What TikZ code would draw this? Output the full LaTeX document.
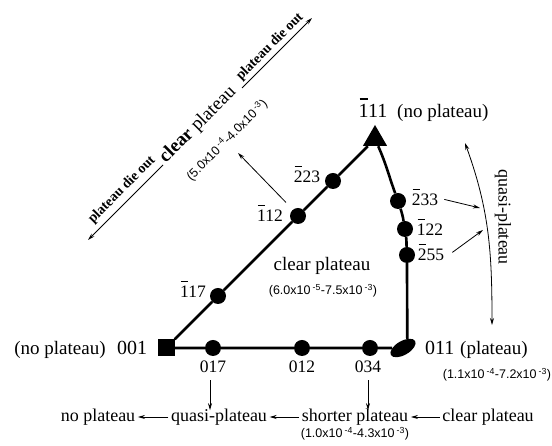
\documentclass[tikz,border=0pt]{standalone}
\usepackage{fontspec}
\setmainfont{Liberation Serif}
\setsansfont{Liberation Sans}
\usetikzlibrary{positioning,shapes.geometric,arrows.meta}

% index with a bar over its first digit
\newcommand{\ob}[1]{\makebox[0pt][l]{\hspace{0.04em}\rule[0.9em]{0.42em}{0.09em}}#1}

\begin{document}
\begin{tikzpicture}[x=1pt,y=1pt,
      every node/.style={inner sep=0pt},
      edge/.style={line width=2.6pt},
      dot/.style={circle, fill, minimum size=16pt},
      arr/.style={-{Stealth[length=7pt,width=4pt]}, line width=0.8pt},
      idx/.style={font=\fontsize{17.5}{18}\selectfont, anchor=base},
      pole/.style={font=\fontsize{20}{20}\selectfont, anchor=base},
      note/.style={font=\fontsize{19}{19}\selectfont},
      row/.style={font=\fontsize{18}{18}\selectfont, inner sep=2.5pt},
      rng/.style={font=\sffamily\fontsize{12.5}{12.5}\selectfont},
      die/.style={font=\bfseries\fontsize{14}{14}\selectfont, rotate=45}]
    \useasboundingbox (0,0) rectangle (552,446);

    % corners of the triangle
    \node[fill, minimum size=17pt] (v001) at (166,98) {};
    \node[regular polygon, regular polygon sides=3, fill, minimum size=28pt] (v111) at (375,307) {};
    \node[ellipse, fill, minimum width=28pt, minimum height=14pt, rotate=30] (v011) at (403,98) {};

    % orientations along the edges
    \node[dot] (d117) at (218,150) {};
    \node[dot] (d112) at (298,230) {};
    \node[dot] (d223) at (333,265) {};
    \node[dot] (d233) at (398,245) {};
    \node[dot] (d122) at (405,217) {};
    \node[dot] (d255) at (407,191) {};
    \node[dot] (d017) at (213,98) {};
    \node[dot] (d012) at (302,98) {};
    \node[dot] (d034) at (370,98) {};

    \draw[edge] (v001) -- (d117) -- (d112) -- (d223) -- (v111);
    \draw[edge] (v001) -- (d017) -- (d012) -- (d034) -- (v011);
    \draw[edge] (v111) to[out=-66,in=110] (d233) to[out=-72,in=100] (d122)
      to[out=-82,in=93] (d255) to[out=-90,in=90] (v011.35);

    \node[idx] (l117) at (193,148) {\ob{1}17};
    \node[idx] (l112) at (270,224) {\ob{1}12};
    \node[idx] (l223) at (307,263) {\ob{2}23};
    \node[idx] (l233) at (425,240) {\ob{2}33};
    \node[idx] (l122) at (430,210) {\ob{1}22};
    \node[idx] (l255) at (431,185) {\ob{2}55};
    \node[idx] (l017) at (213,73) {017};
    \node[idx] (l012) at (302,73) {012};
    \node[idx] (l034) at (368,73) {034};

    \node[pole] (l111) at (373,328) {\ob{1}11};
    \node[note, anchor=base west] (n111) at (397,328) {(no plateau)};
    \node[pole] (l001) at (132,91) {001};
    \node[note, anchor=base] (n001) at (60,91) {(no plateau)};
    \node[pole, anchor=base west] (l011) at (425,91) {011};
    \node[note, anchor=base west] (n011) at (460,91) {(plateau)};
    \node[rng] (r011) at (497,71) {(1.1x10\,\textsuperscript{-4}-7.2x10\,\textsuperscript{-3})};

    \node[note, anchor=base] (inner) at (322,175) {clear plateau};
    \node[rng] (rinner) at (323,155) {(6.0x10\,\textsuperscript{-5}-7.5x10\,\textsuperscript{-3})};

    % along 001 -> 111
    \coordinate (dlo) at (88,206);
    \coordinate (dla) at (163,281);
    \coordinate (dua) at (242,358);
    \coordinate (dhi) at (312,428);
    \draw[arr, line width=1pt] (dla) -- (dlo);
    \draw[arr, line width=1pt] (dua) -- (dhi);
    \node[die] (dielo) at (122,256) {plateau die out};
    \node[die] (diehi) at (270,399) {plateau die out};
    \node[note, rotate=45] (mid) at (198,321) {\textbf{clear} plateau};
    \node[rng, rotate=45] (r112) at (227,306) {(5.0x10\,\textsuperscript{-4}-4.0x10\,\textsuperscript{-3})};
    \coordinate (p112) at (238,293);
    \draw[arr] ([shift={(3pt,2pt)}]l112.north east) -- (p112);

    % along 111 -> 011
    \coordinate (qtop) at (465,303);
    \coordinate (qbot) at (492,121);
    \draw[{Stealth[length=7pt,width=4pt]}-{Stealth[length=7pt,width=4pt]}, line width=0.8pt]
      (qtop) to[out=-70,in=90] (qbot);
    \node[note, font=\fontsize{18}{18}\selectfont, rotate=-90] (qlab) at (503,229) {quasi-plateau};
    \coordinate (q233) at (480,238);
    \coordinate (q255) at (483,216);
    \draw[arr] ([shift={(6pt,-2pt)}]l233.east) -- (q233);
    \draw[arr] ([shift={(8pt,0pt)}]l255.east) -- (q255);

    % along 001 -> 011
    \node[row] (none) at (98,29) {no plateau};
    \node[row] (quasi) at (219,29) {quasi-plateau};
    \node[row] (short) at (355,29) {shorter plateau};
    \node[row] (clear) at (488,29) {clear plateau};
    \node[rng] (rshort) at (355,12) {(1.0x10\,\textsuperscript{-4}-4.3x10\,\textsuperscript{-3})};
    \draw[arr] (clear) -- (short);
    \draw[arr] (short) -- (quasi);
    \draw[arr] (quasi) -- (none);
    \draw[arr, shorten <=7pt, shorten >=-4pt] ([xshift=-3pt]l017.south) -- ([xshift=-3pt]l017.south |- quasi.north);
    \draw[arr, shorten <=7pt, shorten >=-4pt] (l034.south) -- (l034.south |- short.north);
\end{tikzpicture}
\end{document}
